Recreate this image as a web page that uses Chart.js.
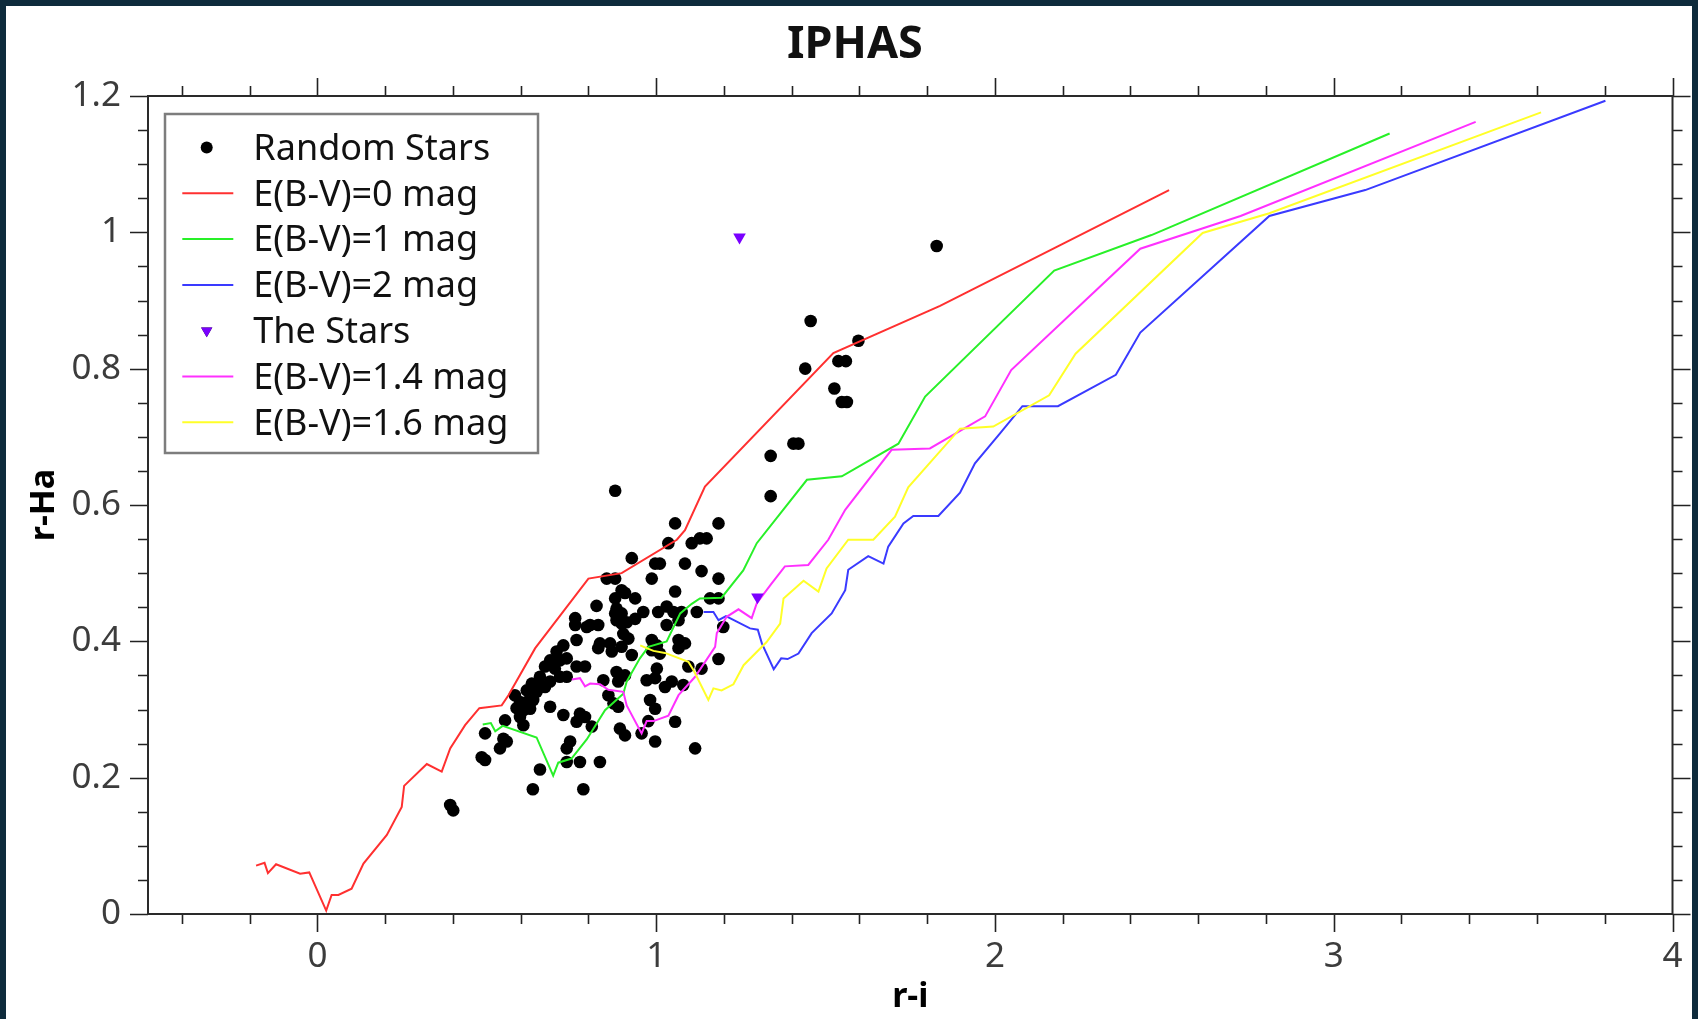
<!DOCTYPE html>
<html><head><meta charset="utf-8">
<script src="https://cdn.jsdelivr.net/npm/chart.js@4.4.1/dist/chart.umd.min.js"></script>
<style>
html,body{margin:0;padding:0;background:#0e2b3c;width:1698px;height:1019px;overflow:hidden}
#wrap{position:absolute;left:6px;top:6px;width:1686px;height:1013px;background:#fff}
canvas{display:block}
</style></head><body><div id="wrap"><canvas id="c" width="1686" height="1013"></canvas></div>
<script>
const chartTitle = 'IPHAS';
const xTitle = 'r-i';
const yTitle = 'r-Ha';
const xTickValues = [0, 1, 2, 3, 4];
const yTickValues = [0, 0.2, 0.4, 0.6, 0.8, 1, 1.2];
const seriesLabels = ['Random Stars', 'E(B-V)=0 mag', 'E(B-V)=1 mag', 'E(B-V)=2 mag', 'The Stars', 'E(B-V)=1.4 mag', 'E(B-V)=1.6 mag'];

const randomStars = [
[0.879,0.621],[1.056,0.573],[1.184,0.573],[1.129,0.551],[1.149,0.551],[1.105,0.544],[1.036,0.544],[0.928,0.522],[0.997,0.514],[1.011,0.514],[1.085,0.514],[1.134,0.503],[0.854,0.492],[0.879,0.492],[0.987,0.492],[1.184,0.492],[0.898,0.475],[0.908,0.471],[1.056,0.473],[0.824,0.452],[0.879,0.463],[0.883,0.448],[0.938,0.463],[1.159,0.463],[1.184,0.463],[0.879,0.441],[0.898,0.441],[0.962,0.443],[1.006,0.443],[1.031,0.451],[1.051,0.443],[1.075,0.443],[1.120,0.443],[0.805,0.424],[0.829,0.424],[0.883,0.431],[0.898,0.426],[0.913,0.428],[0.938,0.433],[1.031,0.424],[1.066,0.431],[1.198,0.421],[0.834,0.397],[0.864,0.397],[0.903,0.411],[0.918,0.404],[0.898,0.392],[0.987,0.402],[1.002,0.394],[1.066,0.402],[1.085,0.397],
[0.761,0.434],[0.761,0.424],[0.795,0.421],[0.765,0.402],[0.726,0.394],
[0.687,0.372],[0.716,0.372],[0.736,0.375],[0.672,0.363],[0.701,0.360],[0.765,0.363],[0.790,0.363],[0.716,0.348],[0.736,0.348],[0.657,0.333],[0.687,0.341],[0.647,0.326],[0.583,0.321],[0.598,0.311],[0.618,0.311],[0.637,0.314],[0.588,0.302],[0.608,0.299],[0.687,0.304],[0.726,0.292],[0.775,0.294],[0.554,0.284],[0.598,0.289],[0.608,0.277],[0.765,0.282],[0.790,0.289],[0.495,0.265],[0.549,0.257],[0.559,0.253],[0.539,0.243],[0.746,0.253],[0.736,0.243],[0.485,0.230],[0.495,0.226],[0.657,0.212],[0.736,0.223],[0.775,0.223],[0.636,0.183],[0.785,0.183],[0.392,0.160],[0.401,0.152],
[0.829,0.390],[0.869,0.385],[0.928,0.380],[0.987,0.387],[1.011,0.382],[1.066,0.390],[0.883,0.355],[0.908,0.350],[1.002,0.360],[1.095,0.363],[1.134,0.360],[1.184,0.374],[0.844,0.343],[0.888,0.341],[0.972,0.343],[0.997,0.346],[1.026,0.333],[1.046,0.341],[1.080,0.336],[0.859,0.321],[0.874,0.309],[0.888,0.304],[0.982,0.314],[0.997,0.301],[0.810,0.275],[0.893,0.272],[0.908,0.262],[0.957,0.265],[0.977,0.283],[1.056,0.282],[0.997,0.253],[1.115,0.243],[0.834,0.223],
[1.338,0.672],[1.338,0.613],[1.405,0.690],[1.420,0.690],[1.440,0.800],[1.456,0.870],[1.526,0.771],[1.538,0.811],[1.560,0.811],[1.548,0.751],[1.563,0.751],[1.597,0.841],[1.828,0.980],
[0.618,0.328],[0.633,0.338],[0.657,0.348],[0.672,0.333],[0.706,0.385],[0.628,0.301]
];

const theStars = [[1.246,0.993],[1.299,0.465]];

const ebv0 = [[-0.181,0.071],[-0.156,0.075],[-0.146,0.060],[-0.122,0.073],[-0.051,0.059],[-0.024,0.061],[0.026,0.005],[0.042,0.028],[0.062,0.028],[0.101,0.037],[0.136,0.074],[0.205,0.116],[0.249,0.157],[0.256,0.188],[0.323,0.220],[0.367,0.209],[0.392,0.243],[0.436,0.277],[0.478,0.302],[0.544,0.306],[0.564,0.321],[0.643,0.390],[0.800,0.492],[0.898,0.500],[1.061,0.549],[1.085,0.563],[1.144,0.627],[1.523,0.823],[1.838,0.892],[2.514,1.062]];

const ebv1 = [[0.488,0.278],[0.512,0.280],[0.525,0.268],[0.547,0.276],[0.647,0.259],[0.696,0.203],[0.711,0.222],[0.750,0.228],[0.795,0.256],[0.849,0.299],[0.903,0.323],[0.913,0.341],[0.952,0.375],[0.977,0.392],[1.031,0.400],[1.071,0.441],[1.105,0.455],[1.129,0.463],[1.193,0.464],[1.257,0.504],[1.297,0.544],[1.445,0.637],[1.548,0.642],[1.715,0.690],[1.794,0.759],[2.175,0.944],[2.462,0.996],[3.165,1.145]];

const ebv2 = [[1.140,0.443],[1.169,0.443],[1.184,0.431],[1.206,0.437],[1.277,0.419],[1.300,0.417],[1.312,0.397],[1.347,0.359],[1.369,0.375],[1.388,0.374],[1.420,0.382],[1.459,0.412],[1.518,0.441],[1.558,0.475],[1.567,0.505],[1.626,0.525],[1.671,0.514],[1.685,0.539],[1.730,0.573],[1.759,0.584],[1.833,0.584],[1.897,0.618],[1.941,0.661],[2.015,0.705],[2.081,0.745],[2.186,0.745],[2.357,0.791],[2.429,0.853],[2.810,1.024],[3.093,1.062],[3.802,1.193]];

const ebv14 = [[0.751,0.344],[0.775,0.346],[0.790,0.334],[0.805,0.338],[0.834,0.337],[0.859,0.329],[0.903,0.326],[0.913,0.306],[0.957,0.265],[0.972,0.283],[0.992,0.283],[1.036,0.291],[1.066,0.321],[1.115,0.348],[1.174,0.392],[1.179,0.412],[1.208,0.436],[1.243,0.447],[1.282,0.434],[1.297,0.456],[1.341,0.485],[1.380,0.510],[1.449,0.512],[1.508,0.549],[1.558,0.593],[1.695,0.681],[1.808,0.683],[1.971,0.730],[2.048,0.798],[2.429,0.976],[2.725,1.024],[3.419,1.162]];

const ebv16 = [[0.953,0.394],[0.972,0.390],[0.992,0.386],[1.026,0.383],[1.095,0.370],[1.110,0.358],[1.154,0.314],[1.169,0.331],[1.193,0.328],[1.228,0.337],[1.258,0.365],[1.326,0.399],[1.366,0.426],[1.376,0.463],[1.435,0.489],[1.479,0.473],[1.503,0.507],[1.567,0.549],[1.641,0.549],[1.705,0.583],[1.744,0.626],[1.897,0.712],[1.995,0.715],[2.160,0.761],[2.238,0.822],[2.613,0.999],[2.810,1.028],[3.612,1.176]];

const toXY = a => a.map(p => ({x: p[0], y: p[1]}));
const FONT = 'Noto Sans';

function lineDs(label, data, color, order) {
  return {label, data: toXY(data), showLine: true, borderColor: color, backgroundColor: color,
    borderWidth: 2, pointRadius: 0, pointHoverRadius: 0, tension: 0, order};
}

const datasets = [
  {label: seriesLabels[0], data: toXY(randomStars), pointStyle: 'circle', pointRadius: 6.3,
   pointBorderWidth: 0, backgroundColor: '#000', borderColor: '#000', showLine: false, order: 10},
  lineDs(seriesLabels[1], ebv0, '#ff3030', 5),
  lineDs(seriesLabels[2], ebv1, '#28f028', 4),
  lineDs(seriesLabels[3], ebv2, '#3a3aff', 3),
  {label: seriesLabels[4], data: toXY(theStars), pointStyle: 'triangle', rotation: 180, pointRadius: 7.3,
   pointBorderWidth: 0, backgroundColor: '#7a00ff', borderColor: '#7a00ff', showLine: false, order: 0},
  lineDs(seriesLabels[5], ebv14, '#ff30ff', 2),
  lineDs(seriesLabels[6], ebv16, '#ffff28', 1)
];

const framePlugin = {
  id: 'frame',
  afterDatasetsDraw(chart) {
    const {ctx, chartArea: a, scales} = chart;
    const x = scales.x, y = scales.y;
    ctx.save();
    ctx.strokeStyle = '#222';
    ctx.lineWidth = 1.6;
    ctx.beginPath();
    for (let i = -2; i <= 20; i++) {
      const v = i * 0.2;
      const px = Math.round(x.getPixelForValue(v)) + 0.5;
      const major = i % 5 === 0;
      const L = major ? 18 : 10;
      ctx.moveTo(px, a.bottom); ctx.lineTo(px, a.bottom + L);
      ctx.moveTo(px, a.top); ctx.lineTo(px, a.top - L);
    }
    for (let i = 0; i <= 24; i++) {
      const v = i * 0.05;
      const py = Math.round(y.getPixelForValue(v)) + 0.5;
      const major = i % 4 === 0;
      const L = major ? 18 : 10;
      ctx.moveTo(a.left, py); ctx.lineTo(a.left - L, py);
      ctx.moveTo(a.right, py); ctx.lineTo(a.right + L, py);
    }
    ctx.stroke();
    ctx.strokeStyle = '#2a2a2a';
    ctx.lineWidth = 2;
    ctx.strokeRect(a.left, a.top, a.right - a.left, a.bottom - a.top);

    // legend box
    const bx = 159, by = 108, bw = 373, bh = 339;
    ctx.fillStyle = '#fff';
    ctx.fillRect(bx, by, bw, bh);
    ctx.strokeStyle = '#7d7d7d';
    ctx.lineWidth = 2.5;
    ctx.strokeRect(bx, by, bw, bh);
    const rowY0 = by + 33.5, rowStep = 45.8;
    const symX = bx + 41.7, lineX0 = bx + 17.3, lineX1 = bx + 68.3, textX = bx + 88.3;
    ctx.font = '36px "' + FONT + '"';
    ctx.textBaseline = 'middle';
    ctx.textAlign = 'left';
    chart.data.datasets.forEach((ds, i) => {
      const cy = rowY0 + i * rowStep;
      if (ds.showLine) {
        ctx.strokeStyle = ds.borderColor;
        ctx.lineWidth = 2;
        ctx.beginPath(); ctx.moveTo(lineX0, cy); ctx.lineTo(lineX1, cy); ctx.stroke();
      } else {
        Chart.helpers.drawPoint(ctx, {pointStyle: ds.pointStyle, rotation: ds.rotation || 0,
          radius: ds.pointStyle === 'circle' ? 6 : 6.5, borderWidth: 0}, symX, cy);
        ctx.fillStyle = ds.backgroundColor;
        ctx.fill();
      }
      ctx.fillStyle = '#111';
      ctx.fillText(ds.label, textX, cy + 2);
    });
    ctx.restore();
  }
};

new Chart(document.getElementById('c'), {
  type: 'scatter',
  data: {datasets},
  plugins: [framePlugin],
  options: {
    responsive: false,
    animation: false,
    devicePixelRatio: 1,
    layout: {padding: {left: 12, right: 0, top: 0, bottom: 0}},
    plugins: {
      legend: {display: false},
      tooltip: {enabled: false},
      title: {display: true, text: chartTitle, color: '#111',
        font: {family: FONT, size: 45, weight: 'bold', lineHeight: 1.2},
        padding: {top: 12, bottom: 24}}
    },
    scales: {
      x: {
        type: 'linear', position: 'bottom', min: -0.5, max: 4,
        afterBuildTicks: s => { s.ticks = xTickValues.map(v => ({value: v})); },
        afterFit: s => { s.height = 105; s.paddingLeft = 0; s.paddingRight = 0; },
        ticks: {color: '#3c3c3c', font: {family: FONT, size: 35}, padding: 14,
          callback: v => String(v), maxRotation: 0, autoSkip: false},
        grid: {display: false},
        border: {display: false},
        title: {display: true, text: xTitle, color: '#000',
          font: {family: FONT, size: 34, weight: 'bold', lineHeight: 1.2}, padding: {top: 0, bottom: 1}}
      },
      y: {
        type: 'linear', position: 'left', min: 0, max: 1.2,
        afterBuildTicks: s => { s.ticks = yTickValues.map(v => ({value: v})); },
        afterFit: s => { s.width = 130; s.paddingTop = 0; s.paddingBottom = 0; },
        ticks: {color: '#3c3c3c', font: {family: FONT, size: 35}, padding: 19,
          callback: v => String(Math.round(v * 10) / 10), autoSkip: false},
        grid: {display: false},
        border: {display: false},
        title: {display: true, text: yTitle, color: '#000',
          font: {family: FONT, size: 34, weight: 'bold', lineHeight: 1.2}, padding: {top: 6, bottom: 4}}
      },
      yR: {
        type: 'linear', position: 'right', display: true,
        afterFit: s => { s.width = 19.5; s.paddingTop = 0; s.paddingBottom = 0; },
        ticks: {display: false},
        grid: {display: false},
        border: {display: false}
      }
    }
  }
});
</script></body></html>
